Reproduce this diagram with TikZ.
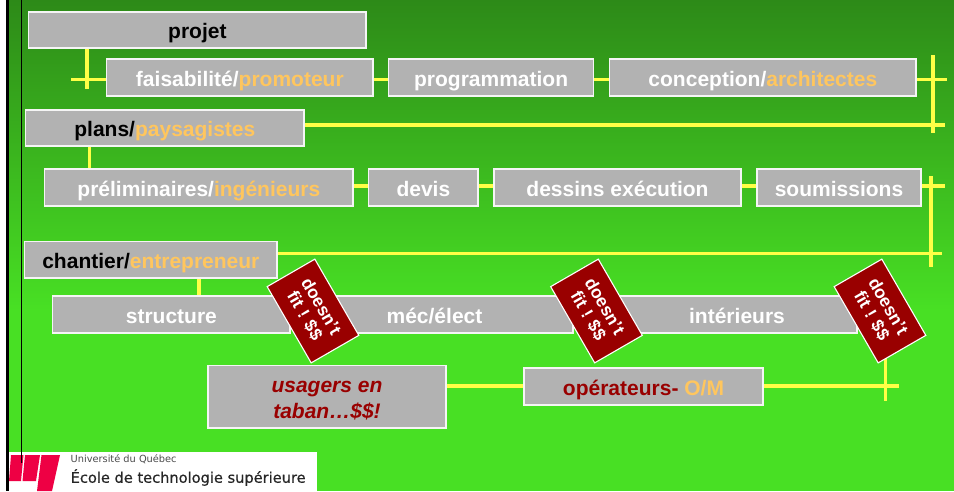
\documentclass[tikz,border=0pt]{standalone}
\usepackage{fontspec}
\setmainfont{Liberation Sans}
\newfontfamily\logofont{DejaVu Sans}
\newfontfamily\logobold[FakeBold=0.5]{DejaVu Sans}
\definecolor{bxfill}{RGB}{178,178,178}
\definecolor{orng}{RGB}{255,198,94}
\definecolor{dred}{RGB}{153,0,0}
\definecolor{ylw}{RGB}{255,255,70}
\definecolor{bgtop}{RGB}{45,138,24}
\definecolor{bgbot}{RGB}{72,224,36}
\definecolor{logored}{RGB}{238,0,68}
\tikzset{
  bx/.style={draw=white!92!gray,line width=1.1pt,fill=bxfill,inner sep=0pt,font=\fontsize{21}{26}\selectfont\bfseries,text=white,align=center,text height=17pt,text depth=0pt},
  yl/.style={draw=ylw,line width=3.2pt},
  tag/.style={draw=white,line width=1.1pt,fill=dred,rotate=-60,minimum width=88pt,minimum height=55pt,inner sep=0pt,text=white,align=center,font=\fontsize{17.5}{19}\selectfont\bfseries}
}
\newcommand{\bxnode}[7][]{\node[bx,#1,minimum width=#4pt-#3pt,minimum height=#6pt-#5pt] (#2) at ({(#3+#4)/2},{(#5+#6)/2}) {#7};}
\begin{document}
\begin{tikzpicture}[x=1pt,y=-1pt]
\useasboundingbox (0,0) rectangle (954,491);
\fill[white] (0,0) rectangle (954,491);
\fill[bgbot] (9,300) rectangle (954,491);
\shade[top color=bgtop,bottom color=bgbot,shading angle=0] (9,0) rectangle (954,310);
\fill[black] (6,0) rectangle (9,491);
% free ends
\coordinate (e1) at (71,79.5);
\coordinate (e2) at (947,79.5);
\coordinate (v1a) at (933,55);
\coordinate (v1b) at (933,133);
\coordinate (e3) at (945,125);
\coordinate (e4) at (945,186);
\coordinate (v2a) at (931,176);
\coordinate (v2b) at (931,267);
\coordinate (e5) at (942,253.7);
\coordinate (e6) at (899,386);
\coordinate (v3a) at (885.7,345);
\coordinate (v3b) at (885.7,401);
\coordinate (d1) at (87,89);
\bxnode{projet}{28.7}{366}{12}{48}{\textcolor{black}{projet}}
\bxnode{faisa}{106.7}{373}{59}{96}{faisabilité/\textcolor{orng}{promoteur}}
\bxnode{prog}{388.7}{593.5}{59}{96}{programmation}
\bxnode{conc}{609.7}{916}{59}{96}{conception/\textcolor{orng}{architectes}}
\bxnode{plans}{25.7}{304}{110}{146}{\textcolor{black}{plans/}\textcolor{orng}{paysagistes}}
\bxnode{prel}{44.7}{353}{169}{206}{préliminaires/\textcolor{orng}{ingénieurs}}
\bxnode{devis}{368.7}{478}{169}{206}{devis}
\bxnode{dess}{494}{741}{169}{206}{dessins exécution}
\bxnode{soum}{757}{921}{169}{206}{soumissions}
\bxnode{chan}{24.7}{277}{241.5}{278}{\textcolor{black}{chantier/}\textcolor{orng}{entrepreneur}}
\bxnode{struc}{52.7}{290}{296}{333}{structure}
\bxnode{mec}{296}{573}{296}{333}{méc/élect}
\bxnode{inte}{617}{857}{296}{333}{intérieurs}
\bxnode[text=dred,text height=43pt]{usag}{208}{446}{365.7}{428}{\itshape usagers en\\\itshape taban…\$\$!}
\bxnode{oper}{524}{763}{368}{405}{\textcolor{dred}{opérateurs-} \textcolor{orng}{O/M}}
% connectors
\draw[yl] (e1) -- (faisa.west |- e1);
\draw[yl] (projet.south -| d1) -- (d1);
\draw[yl] (faisa.east |- e1) -- (prog.west |- e1);
\draw[yl] (prog.east |- e1) -- (conc.west |- e1);
\draw[yl] (conc.east |- e1) -- (e2);
\draw[yl] (v1a) -- (v1b);
\draw[yl] (plans.east |- e3) -- (e3);
\coordinate (d2) at (89.5,160);
\draw[yl] (plans.south -| d2) -- (prel.north -| d2);
\draw[yl] (prel.east |- e4) -- (devis.west |- e4);
\draw[yl] (devis.east |- e4) -- (dess.west |- e4);
\draw[yl] (dess.east |- e4) -- (soum.west |- e4);
\draw[yl] (soum.east |- e4) -- (e4);
\draw[yl] (v2a) -- (v2b);
\draw[yl] (chan.east |- e5) -- (e5);
\coordinate (d3) at (199,285);
\draw[yl] (chan.south -| d3) -- (struc.north -| d3);
\draw[yl] (usag.east |- e6) -- (oper.west |- e6);
\draw[yl] (oper.east |- e6) -- (e6);
\draw[yl] (v3a) -- (v3b);
% tags
\node[tag] (t1) at (313,311) {doesn't\\fit ! \$\$};
\node[tag] (t2) at (596.5,311) {doesn't\\fit ! \$\$};
\node[tag] (t3) at (880,311) {doesn't\\fit ! \$\$};
% logo
\fill[white] (9,452) rectangle (317,491);
\fill[logored] (11,455) -- (23.5,455) -- (21,481) -- (9,481) -- cycle;
\fill[logored] (25,455) -- (40,455) -- (36,481) -- (22.5,481) -- cycle;
\fill[logored] (41.5,455) -- (60,455) -- (52,491) -- (37,491) -- cycle;
\draw[black,line width=1.2pt] (21.5,0) -- (21.5,463);
\node[anchor=west,inner sep=0pt,text=black!70,font=\logofont\fontsize{9.8}{11}\selectfont] (lg1) at (70.5,459) {Université du Québec};
\node[anchor=west,inner sep=0pt,text=black!85,font=\logobold\fontsize{14.6}{16}\selectfont] (lg2) at (70.5,477.5) {École de technologie supérieure};
\end{tikzpicture}
\end{document}
